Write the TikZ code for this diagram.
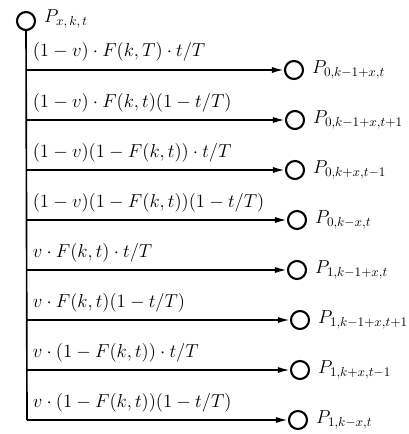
\RequirePackage{fix-cm}
\documentclass[tikz,border=0pt]{standalone}
\usepackage{amsmath}
\usepackage{tikz}
\usetikzlibrary{
    arrows.meta,
    positioning
}
\tikzstyle{pstate} = [circle, draw, line width=1.8pt, minimum size=0.54cm, inner sep=0pt]
\tikzstyle{branch} = [-{Latex[length=3.6mm,width=1.8mm]}, line width=1.4pt]
\tikzstyle{prob} = [anchor=base west, inner sep=0pt]
\tikzstyle{plabel} = [inner sep=0pt]

\begin{document}
\begin{tikzpicture}[x=1cm,y=1cm, line width=1.4pt, font=\fontsize{16}{19}\selectfont]
    \useasboundingbox (0,0) rectangle (12.27,-13.02);
    \node[pstate] (top) at (0.78,-0.63) {};
    \node[plabel, right=0.22cm of top, yshift=0.06cm] (ptop) {$P_{x,\,k,\,t}$};
    \coordinate (b1) at (0.81,-2.1);
    \coordinate (b2) at (0.81,-3.6);
    \coordinate (b3) at (0.81,-5.1);
    \coordinate (b4) at (0.81,-6.6);
    \coordinate (b5) at (0.81,-8.1);
    \coordinate (b6) at (0.81,-9.6);
    \coordinate (b7) at (0.81,-11.1);
    \coordinate (b8) at (0.81,-12.6);
    \draw (top) -- (b8);
    \node[pstate] (c1) at (8.82,-2.1) {};
    \node[plabel, right=0.22cm of c1] (p1) {$P_{0,k-1+x,t}$};
    \node[prob] (f1) at (0.96,-1.71) {$(1-v)\cdot F(k,T)\cdot t/T$};
    \draw[branch] (b1) -- (c1);
    \node[pstate] (c2) at (8.85,-3.6) {};
    \node[plabel, right=0.22cm of c2] (p2) {$P_{0,k-1+x,t+1}$};
    \node[prob] (f2) at (0.96,-3.21) {$(1-v)\cdot F(k,t)(1-t/T)$};
    \draw[branch] (b2) -- (c2);
    \node[pstate] (c3) at (8.85,-5.1) {};
    \node[plabel, right=0.22cm of c3] (p3) {$P_{0,k+x,t-1}$};
    \node[prob] (f3) at (0.96,-4.71) {$(1-v)(1-F(k,t))\cdot t/T$};
    \draw[branch] (b3) -- (c3);
    \node[pstate] (c4) at (8.91,-6.6) {};
    \node[plabel, right=0.22cm of c4] (p4) {$P_{0,k-x,t}$};
    \node[prob] (f4) at (0.96,-6.21) {$(1-v)(1-F(k,t))(1-t/T)$};
    \draw[branch] (b4) -- (c4);
    \node[pstate] (c5) at (8.91,-8.1) {};
    \node[plabel, right=0.22cm of c5] (p5) {$P_{1,k-1+x,t}$};
    \node[prob] (f5) at (0.96,-7.71) {$v\cdot F(k,t)\cdot t/T$};
    \draw[branch] (b5) -- (c5);
    \node[pstate] (c6) at (9.0,-9.6) {};
    \node[plabel, right=0.22cm of c6] (p6) {$P_{1,k-1+x,t+1}$};
    \node[prob] (f6) at (0.96,-9.21) {$v\cdot F(k,t)(1-t/T)$};
    \draw[branch] (b6) -- (c6);
    \node[pstate] (c7) at (9.0,-11.1) {};
    \node[plabel, right=0.22cm of c7] (p7) {$P_{1,k+x,t-1}$};
    \node[prob] (f7) at (0.96,-10.71) {$v\cdot(1-F(k,t))\cdot t/T$};
    \draw[branch] (b7) -- (c7);
    \node[pstate] (c8) at (8.94,-12.6) {};
    \node[plabel, right=0.22cm of c8] (p8) {$P_{1,k-x,t}$};
    \node[prob] (f8) at (0.96,-12.21) {$v\cdot(1-F(k,t))(1-t/T)$};
    \draw[branch] (b8) -- (c8);
\end{tikzpicture}
\end{document}
